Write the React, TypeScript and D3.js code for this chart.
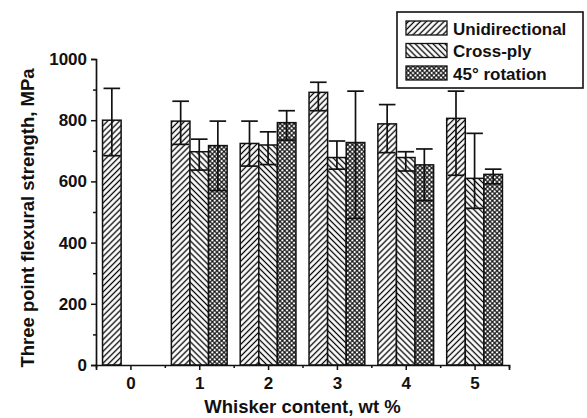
import { useEffect, useRef } from "react";
import * as d3 from "d3";

// whisker content, wt %
const categories = [0, 1, 2, 3, 4, 5];
const seriesNames = ["Unidirectional", "Cross-ply", "45° rotation"];

// mean strength (MPa), null where no bar
const uniMean = [800, 797, 724, 891, 788, 806];
const crossMean = [null, 697, 719, 678, 678, 610];
const rotMean = [null, 717, 792, 727, 654, 623];

// error bar top / bottom (MPa)
const uniHigh = [904, 862, 797, 924, 851, 895];
const uniLow = [684, 721, 650, 831, 694, 620];
const crossHigh = [null, 738, 762, 732, 697, 757];
const crossLow = [null, 637, 655, 640, 634, 512];
const rotHigh = [null, 797, 831, 895, 706, 640];
const rotLow = [null, 570, 735, 479, 537, 592];

const yTicks = [0, 200, 400, 600, 800, 1000];
const yMinorTicks = [100, 300, 500, 700, 900];
const xMinorTicks = [-0.5, 0.5, 1.5, 2.5, 3.5, 4.5, 5.5];

const FONT = "'Liberation Sans', Arial, sans-serif";

export default function App() {
    const ref = useRef<SVGSVGElement | null>(null);

    useEffect(() => {
        const svg = d3.select(ref.current);
        svg.selectAll("*").remove();

        const x = d3.scaleLinear().domain([-0.5, 5.5]).range([96, 509]);
        const y = d3.scaleLinear().domain([0, 1000]).range([365, 59]);
        const barW = x(0.27) - x(0);

        const defs = svg.append("defs");
        // single or crossed hatch, drawn in a rotated tile
        const hatch = (id, angle, size, sw, cross) => {
            const p = defs.append("pattern")
                .attr("id", id)
                .attr("patternUnits", "userSpaceOnUse")
                .attr("width", size)
                .attr("height", size)
                .attr("patternTransform", `rotate(${angle})`);
            p.append("rect").attr("width", size).attr("height", size).attr("fill", "#fff");
            p.append("line")
                .attr("x1", size / 2).attr("x2", size / 2)
                .attr("y1", 0).attr("y2", size)
                .attr("stroke", "#000")
                .attr("stroke-width", sw);
            if (cross) {
                p.append("line")
                    .attr("x1", 0).attr("x2", size)
                    .attr("y1", size / 2).attr("y2", size / 2)
                    .attr("stroke", "#000")
                    .attr("stroke-width", sw);
            }
        };
        hatch("pUni", 45, 4.2, 1.3, false);
        hatch("pCross", -45, 4.2, 1.3, false);
        hatch("pRot", 45, 3.3, 1.1, true);

        const series = [
            { mean: uniMean, hi: uniHigh, lo: uniLow, pat: "pUni", off: -1 },
            { mean: crossMean, hi: crossHigh, lo: crossLow, pat: "pCross", off: 0 },
            { mean: rotMean, hi: rotHigh, lo: rotLow, pat: "pRot", off: 1 },
        ];

        const g = svg.append("g");

        series.forEach((s) => {
            const data = categories
                .map((c, i) => ({ c, m: s.mean[i], hi: s.hi[i], lo: s.lo[i] }))
                .filter((d) => d.m !== null);
            g.selectAll(null)
                .data(data)
                .enter()
                .append("rect")
                .attr("x", (d) => x(d.c) + (s.off - 0.5) * barW)
                .attr("y", (d) => y(d.m))
                .attr("width", barW)
                .attr("height", (d) => y(0) - y(d.m))
                .attr("fill", `url(#${s.pat})`)
                .attr("stroke", "#111")
                .attr("stroke-width", 1.5);
        });

        // error bars
        series.forEach((s) => {
            const data = categories
                .map((c, i) => ({ c, m: s.mean[i], hi: s.hi[i], lo: s.lo[i] }))
                .filter((d) => d.m !== null);
            const eg = g.selectAll(null).data(data).enter().append("g")
                .attr("stroke", "#111")
                .attr("stroke-width", 1.7);
            const cx = (d) => x(d.c) + s.off * barW;
            eg.append("line")
                .attr("x1", cx).attr("x2", cx)
                .attr("y1", (d) => y(d.hi)).attr("y2", (d) => y(d.lo));
            ["hi", "lo"].forEach((k) => {
                eg.append("line")
                    .attr("x1", (d) => cx(d) - barW / 2 + 1)
                    .attr("x2", (d) => cx(d) + barW / 2 - 1)
                    .attr("y1", (d) => y(d[k]))
                    .attr("y2", (d) => y(d[k]));
            });
        });

        // axes
        const yAxis = d3.axisLeft(y).tickValues(yTicks).tickSize(5).tickPadding(4).tickFormat(d3.format("d"));
        const ya = svg.append("g").attr("transform", `translate(${x(-0.5)},0)`).call(yAxis);
        ya.selectAll("text").style("font-family", FONT).style("font-size", "17px").style("font-weight", "bold").attr("fill", "#111");
        svg.append("g").attr("transform", `translate(${x(-0.5)},0)`)
            .call(d3.axisLeft(y).tickValues(yMinorTicks).tickSize(3).tickFormat(() => ""))
            .select(".domain").remove();

        const xAxis = d3.axisBottom(x).tickValues(categories).tickSize(5).tickPadding(7).tickFormat(d3.format("d"));
        const xa = svg.append("g").attr("transform", `translate(0,${y(0)})`).call(xAxis);
        xa.selectAll("text").style("font-family", FONT).style("font-size", "17px").style("font-weight", "bold").attr("fill", "#111");
        svg.append("g").attr("transform", `translate(0,${y(0)})`)
            .call(d3.axisBottom(x).tickValues(xMinorTicks).tickSize(3).tickFormat(() => ""))
            .select(".domain").remove();

        svg.selectAll(".domain").attr("stroke", "#111").attr("stroke-width", 1.7);
        svg.selectAll(".tick line").attr("stroke", "#111").attr("stroke-width", 1.5);

        // axis titles
        svg.append("text")
            .attr("x", (x(-0.5) + x(5.5)) / 2)
            .attr("y", 413)
            .attr("text-anchor", "middle")
            .style("font-family", FONT).style("font-size", "18.5px").style("font-weight", "bold")
            .attr("fill", "#111")
            .text("Whisker content, wt %");
        svg.append("text")
            .attr("transform", `translate(34,${(y(0) + y(1000)) / 2 + 6}) rotate(-90)`)
            .attr("text-anchor", "middle")
            .style("font-family", FONT).style("font-size", "18.5px").style("font-weight", "bold")
            .attr("fill", "#111")
            .text("Three point flexural strength, MPa");

        // legend
        const lg = svg.append("g").attr("transform", "translate(397,12)");
        lg.append("rect").attr("width", 186).attr("height", 76)
            .attr("fill", "#fff").attr("stroke", "#111").attr("stroke-width", 1.6);
        series.forEach((s, i) => {
            const row = lg.append("g").attr("transform", `translate(9,${9 + i * 22.5})`);
            row.append("rect").attr("width", 41).attr("height", 14)
                .attr("fill", `url(#${s.pat})`)
                .attr("stroke", "#111").attr("stroke-width", 1.3);
            row.append("text")
                .attr("x", 47).attr("y", 13.5)
                .style("font-family", FONT).style("font-size", "17px").style("font-weight", "bold")
                .attr("fill", "#111")
                .text(seriesNames[i]);
        });
    }, []);

    return (
        <div>
            <svg ref={ref} width={587} height={418} style={{ position: "absolute", left: 0, top: 0, background: "#fff" }}></svg>
        </div>
    );
}
